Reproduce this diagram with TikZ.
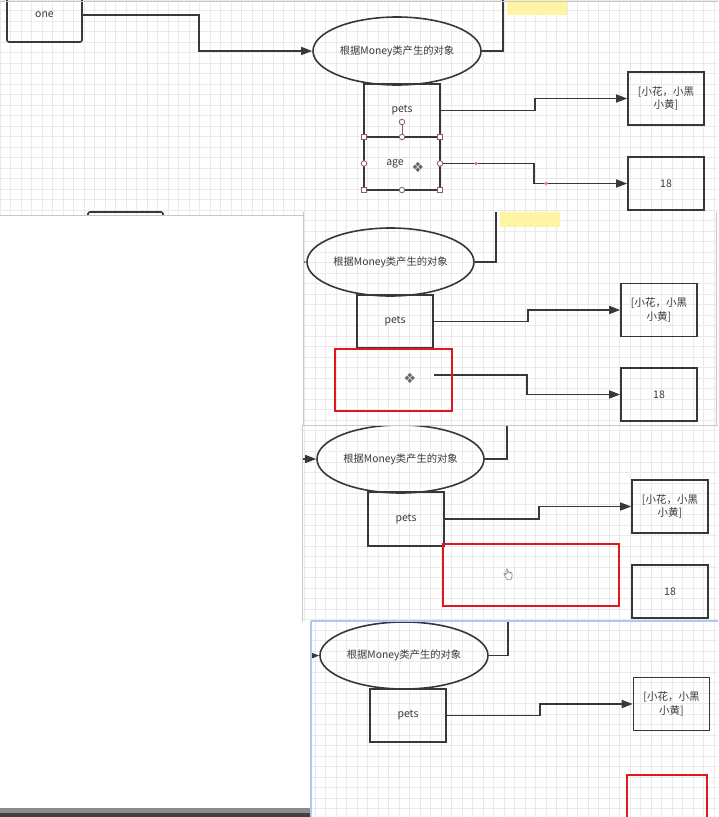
\documentclass[tikz,border=0pt]{standalone}
\usepackage{fontspec}
\setmainfont{Noto Sans CJK SC}
\newfontfamily\symfont{DejaVu Sans}
\newfontfamily\emojifont{Noto Emoji}
\usetikzlibrary{shapes.geometric,arrows.meta,calc}
\definecolor{txt}{HTML}{3A3A3A}
\definecolor{ln}{HTML}{383838}
\definecolor{gridc}{HTML}{EAEAEA}
\definecolor{yel}{HTML}{FFF4A3}
\definecolor{redbox}{HTML}{E3161E}
\definecolor{sel}{HTML}{8E5C68}
\definecolor{pinkdot}{HTML}{E0788A}
\definecolor{edge}{HTML}{C8C8C8}
\definecolor{blueedge}{HTML}{A9CBF2}
\tikzset{
  box/.style={draw=ln, line width=1.6pt, rectangle, minimum width=76pt, minimum height=53pt, inner sep=0pt, text=txt, font=\fontsize{10.5}{13.5}\selectfont, align=center},
  obj/.style={draw=ln, line width=1.6pt, ellipse, minimum width=168pt, minimum height=68pt, inner sep=0pt, text=txt, font=\fontsize{10.3}{12}\selectfont},
  conn/.style={draw=ln, line width=1.6pt, -{Triangle[length=11pt,width=8pt]}},
  plain/.style={draw=ln, line width=1.6pt},
  redrect/.style={draw=redbox, line width=1.6pt},
  gridlines/.style={draw=gridc, line width=0.5pt},
  handlesq/.style={draw=sel, fill=white, line width=0.8pt, rectangle, minimum size=5pt, inner sep=0pt},
  handlecirc/.style={draw=sel, fill=white, line width=0.8pt, circle, minimum size=5.5pt, inner sep=0pt},
  icon/.style={text=gray!80!black, font=\symfont\fontsize{14}{14}\selectfont, inner sep=0pt}
}
\begin{document}
\begin{tikzpicture}[x=1pt,y=-1pt]
\useasboundingbox (0,0) rectangle (718,817);
\fill[white] (0,0) rectangle (718,817);

% ===== Panel 1 =====
\begin{scope}
\clip (0,0) rectangle (718,215);
\draw[gridlines, step=10.5pt] (0,0) grid (718,215);
\fill[yel] (507,-2) rectangle (567,15);
\node[box, rounded corners=2pt, minimum width=75pt, minimum height=54pt] (p1one) at (44.5,15) {one};
\node[obj] (p1obj) at (397,51) {根据Money类产生的对象};
\node[box] (p1pets) at (402,110.5) {pets};
\node[box] (p1age) at (402,163.5) {age\hspace{14pt}};
\node[box] (p1list) at (666,98.5) {[小花，小黑\\小黄]};
\node[box] (p1n18) at (666,183.5) {18};
\node[box, rounded corners=2pt, minimum width=75pt, minimum height=30pt] (p1low) at (125.5,227) {};
\coordinate (p1top) at (503,-5);
\draw[conn] (p1one.east) -- ++(116,0) |- (p1obj.west);
\draw[plain] (p1obj.east) -| (p1top);
\draw[conn] (p1pets.east) -- ++(94,0) |- (p1list.west);
\draw[conn] (p1age.east) -- ++(93,0) |- (p1n18.west);
% selection handles
\draw[sel, line width=0.8pt] (402,125) -- (402,137);
\node[handlecirc] (h0) at (402,122) {};
\node[handlesq] (h1) at (364,137) {};
\node[handlesq] (h2) at (440,137) {};
\node[handlesq] (h3) at (364,190) {};
\node[handlesq] (h4) at (440,190) {};
\node[handlecirc] (h5) at (402,137) {};
\node[handlecirc] (h6) at (402,190) {};
\node[handlecirc] (h7) at (364,163.5) {};
\node[handlecirc] (h8) at (440,163.5) {};
\fill[pinkdot] (476,163.5) circle (1.8);
\fill[pinkdot] (546,183.5) circle (1.8);
\node[icon] (p1move) at (418,167) {❖};
\end{scope}
\draw[edge, line width=1pt] (0,1.5) -- (718,1.5);
\draw[edge, line width=1pt] (0,215) -- (303,215);

% ===== Panel 2 =====
\begin{scope}
\clip (303,212) rectangle (716,425);
\fill[white] (303,212) rectangle (716,425);
\draw[gridlines, step=10.5pt] (303,212) grid (716,425);
\fill[yel] (500,212) rectangle (560,227);
\node[obj, minimum width=167pt] (p2obj) at (390.5,262) {根据Money类产生的对象};
\node[box] (p2pets) at (395,321.5) {pets};
\node[box] (p2list) at (659,310) {[小花，小黑\\小黄]};
\node[box] (p2n18) at (659,394.5) {18};
\coordinate (p2in) at (285,262);
\coordinate (p2top) at (496,205);
\coordinate (p2src) at (434,375);
\draw[conn] (p2in) -- (p2obj.west);
\draw[plain] (p2obj.east) -| (p2top);
\draw[conn] (p2pets.east) -- ++(94,0) |- (p2list.west);
\draw[conn] (p2src) -- ++(93,0) |- (p2n18.west);
\draw[redrect] (335,349) rectangle (452,411);
\node[icon] (p2move) at (410,378) {❖};
\end{scope}
\draw[edge, line width=1pt] (303,212) -- (303,425);
\draw[edge, line width=0.8pt] (716,212) -- (716,425);

% ===== Panel 3 =====
\begin{scope}
\clip (302,425) rectangle (718,622);
\fill[white] (302,425) rectangle (718,622);
\draw[gridlines, step=10.5pt] (302,425) grid (718,622);
\node[obj, minimum width=167pt] (p3obj) at (400.5,459) {根据Money类产生的对象};
\node[box, minimum height=54pt] (p3pets) at (406,519) {pets};
\node[box] (p3list) at (670,506.5) {[小花，小黑\\小黄]};
\node[box] (p3n18) at (670,591.5) {18};
\coordinate (p3in) at (290,459);
\coordinate (p3top) at (507,418);
\draw[conn] (p3in) -- (p3obj.west);
\draw[plain] (p3obj.east) -| (p3top);
\draw[conn] (p3pets.east) -- ++(94,0) |- (p3list.west);
\draw[redrect] (443,544) rectangle (619,606);
\node[inner sep=0pt, text=black!75, font=\emojifont\fontsize{11}{11}\selectfont] (p3hand) at (508,575) {👆};
\end{scope}
\draw[edge, line width=1pt] (302,425) -- (718,425);
\draw[edge, line width=1pt] (302,425) -- (302,622);

% ===== Panel 4 =====
\begin{scope}
\clip (311,621) rectangle (718,817);
\fill[white] (311,621) rectangle (718,817);
\draw[gridlines, step=10.5pt] (311,621) grid (718,817);
\node[obj, minimum height=67pt] (p4obj) at (404,655.5) {根据Money类产生的对象};
\node[box] (p4pets) at (408,715.5) {pets};
\node[box] (p4list) at (671.5,704) {[小花，小黑\\小黄]};
\coordinate (p4in) at (295,656);
\coordinate (p4top) at (508,612);
\draw[conn] (p4in) -- (p4obj.west);
\draw[plain] (p4obj.east) -| (p4top);
\draw[conn] (p4pets.east) -- ++(93,0) |- (p4list.west);
\draw[redrect] (627,775) rectangle (707,822);
\end{scope}
\draw[blueedge, line width=1.2pt] (311,621) -- (718,621);
\draw[blueedge, line width=1.5pt] (311,621) -- (311,817);

% bottom bar
\fill[gray!90] (0,808) rectangle (310,813);
\fill[black!75] (0,813) rectangle (310,817);
\end{tikzpicture}
\end{document}
